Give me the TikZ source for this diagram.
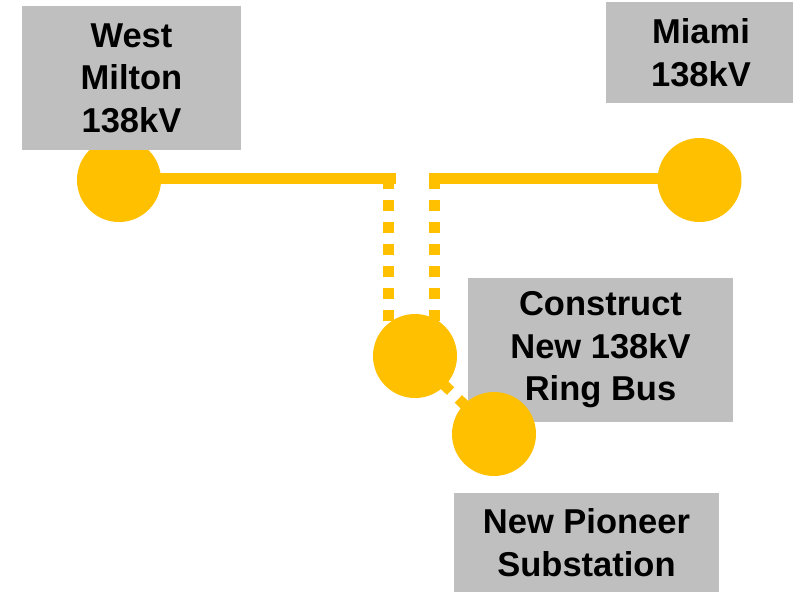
\documentclass[tikz,border=0pt]{standalone}
\usepackage{fontspec}
\setmainfont{Liberation Sans}
\definecolor{gold}{HTML}{FFC000}
\definecolor{boxgray}{HTML}{BFBFBF}
\pgfdeclarelayer{background}
\pgfsetlayers{background,main}
\begin{document}
\begin{tikzpicture}[x=1pt,y=-1pt,
  bus/.style={circle,fill=gold,draw=none,minimum size=84pt,inner sep=0pt},
  lbl/.style={fill=boxgray,draw=none,inner sep=0pt,align=center,
    font=\fontsize{34.5}{42.5}\selectfont\bfseries},
  solidline/.style={draw=gold,line width=10.5pt},
  dotline/.style={draw=gold,line width=10.5pt,dash pattern=on 11pt off 11pt},
]
\useasboundingbox (0,0) rectangle (793,592);
% buses
\node[bus] (wm) at (119,180) {};
\node[bus] (mi) at (699.5,180) {};
\node[bus] (rb) at (415,356) {};
% labels
\node[lbl,minimum width=219pt,minimum height=144pt] (wml) at (131.5,78) {West\\Milton\\138kV};
\node[lbl,minimum width=190pt,minimum height=101pt] (mil) at (701,52.5) {Miami\\138kV};
\node[lbl,minimum width=265pt,minimum height=144pt] (rbl) at (600.5,350) {Construct\\New 138kV\\Ring Bus};
\node[lbl,minimum width=265pt,minimum height=99pt] (npl) at (586.5,542.5) {New Pioneer\\Substation};
\node[bus] (np) at (494,434) {};
% junction points
\coordinate (tl) at (396,178.5);
\coordinate (tr) at (429,178.5);
\coordinate (dl) at (388.5,178);
\coordinate (dr) at (434.5,178);
\begin{pgfonlayer}{background}
\draw[solidline] (wm.center |- tl) -- (tl);
\draw[solidline] (tr) -- (tr -| mi.center);
\draw[dotline] (dl) -- (dl |- rb.center);
\draw[dotline] (dr) -- (dr |- rb.center);
\draw[dotline,dash phase=5pt] (rb.center) -- (np.center);
\end{pgfonlayer}
\end{tikzpicture}
\end{document}
